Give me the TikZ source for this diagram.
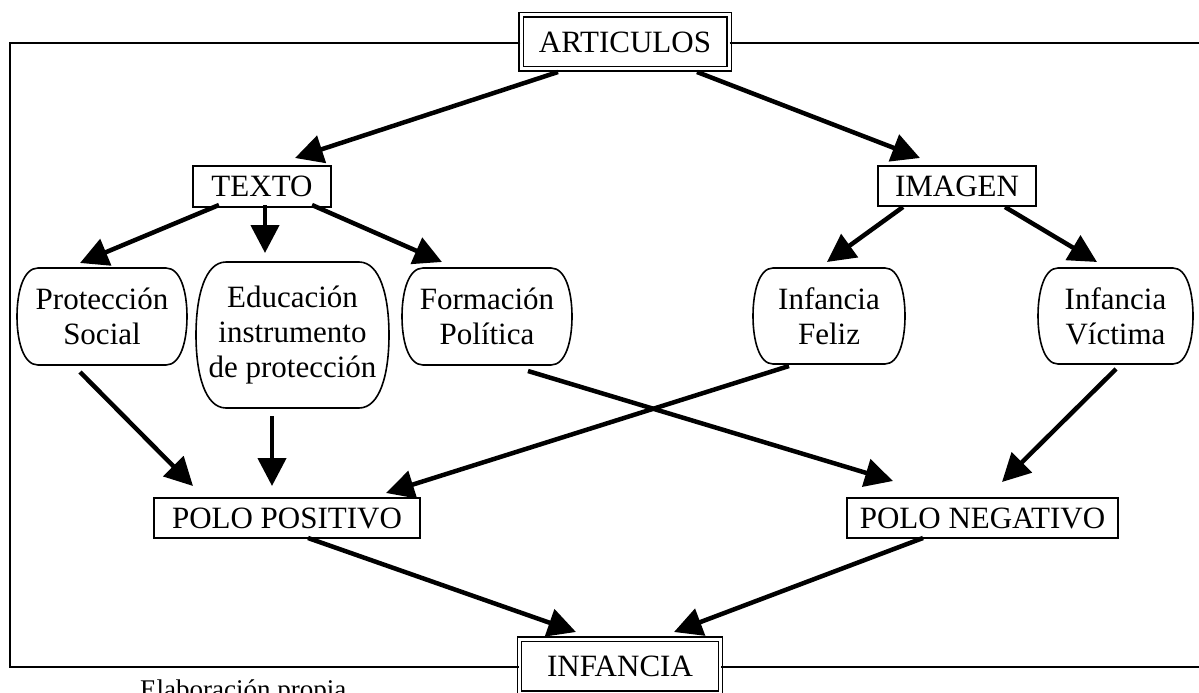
\documentclass[tikz,border=0pt]{standalone}
\usepackage{fontspec}
\setmainfont{Liberation Serif}
\usetikzlibrary{arrows.meta}
\newcommand\bubbleborder[3]{%
  \draw[bubline] ([xshift=#2]#1.north west) -- ([xshift=-#2]#1.north east)
    .. controls ([xshift=-0.3*#2]#1.north east) and ([yshift=-#3]#1.north east) .. (#1.east)
    .. controls ([yshift=#3]#1.south east) and ([xshift=-0.3*#2]#1.south east) .. ([xshift=-#2]#1.south east)
    -- ([xshift=#2]#1.south west)
    .. controls ([xshift=0.3*#2]#1.south west) and ([yshift=#3]#1.south west) .. (#1.west)
    .. controls ([yshift=-#3]#1.north west) and ([xshift=0.3*#2]#1.north west) .. cycle;}
\begin{document}
\begin{tikzpicture}[x=1pt,y=1pt,
  every node/.style={font=\fontsize{31}{35}\selectfont, align=center, inner sep=0pt},
  plainbox/.style={draw, line width=1.6pt, fill=white},
  dblbox/.style={draw, double, double distance=3pt, line width=1.3pt, fill=white},
  bubble/.style={fill=white, outer sep=0pt},
  bubline/.style={line width=1.6pt, line join=round},
  conn/.style={line width=4.5pt, -{Triangle[length=28pt,width=28pt]}},
  frameline/.style={line width=2pt}]
\useasboundingbox (0,0) rectangle (1199,-693);
% nodes
\node[dblbox, minimum width=208pt, minimum height=54pt] (art) at (625,-42) {ARTICULOS};
\node[dblbox, minimum width=201pt, minimum height=54pt] (inf) at (620,-666) {INFANCIA};
\node[plainbox, minimum width=138pt, minimum height=41pt] (texto) at (262,-186.5) {TEXTO};
\node[plainbox, minimum width=158pt, minimum height=40pt] (imagen) at (957,-186) {IMAGEN};
\node[plainbox, minimum width=266pt, minimum height=40pt] (pp) at (287,-518) {POLO POSITIVO};
\node[plainbox, minimum width=271pt, minimum height=40pt] (pn) at (982.5,-518) {POLO NEGATIVO};
\node[bubble, minimum width=170pt, minimum height=97pt] (prot) at (102,-316.5) {Protección\\Social};
\node[bubble, minimum width=193pt, minimum height=146pt] (edu) at (292.5,-335) {Educación\\instrumento\\de protección};
\node[bubble, minimum width=170pt, minimum height=97pt] (form) at (487,-316.5) {Formación\\Política};
\node[bubble, minimum width=152pt, minimum height=96pt] (feliz) at (829,-316) {Infancia\\Feliz};
\node[bubble, minimum width=155pt, minimum height=96pt] (vict) at (1115.5,-316) {Infancia\\Víctima};
\node[anchor=base west, font=\fontsize{27}{31}\selectfont] (src) at (140,-698) {Elaboración propia};
\bubbleborder{prot}{21pt}{24pt}
\bubbleborder{edu}{30pt}{34pt}
\bubbleborder{form}{21pt}{24pt}
\bubbleborder{feliz}{20pt}{24pt}
\bubbleborder{vict}{20pt}{24pt}
% frame
\coordinate (tl) at (10,-43);
\coordinate (bl) at (10,-667);
\coordinate (tr) at (1199,-43);
\coordinate (br) at (1199,-667);
\draw[frameline] (art.west |- tl) -- (tl) -- (bl) -- (inf.west |- bl);
\draw[frameline] (art.east |- tr) -- (tr);
\draw[frameline] (inf.east |- br) -- (br);
% connectors
\draw[conn] ([shift={(-67,-30)}]art.center) -- ([shift={(33,28.5)}]texto.center);
\draw[conn] ([shift={(72,-30)}]art.center) -- ([shift={(-37,28)}]imagen.center);
\draw[conn] ([shift={(-43,-18.5)}]texto.center) -- ([shift={(-22,53.5)}]prot.center);
\draw[conn] ([shift={(3,-18.5)}]texto.center) -- ([shift={(-27.5,82)}]edu.center);
\draw[conn] ([shift={(50,-18.5)}]texto.center) -- ([shift={(-45,54.5)}]form.center);
\draw[conn] ([shift={(-54,-21)}]imagen.center) -- ([shift={(-2,54)}]feliz.center);
\draw[conn] ([shift={(48,-21)}]imagen.center) -- ([shift={(-18.5,54)}]vict.center);
\draw[conn] ([shift={(-22,-55.5)}]prot.center) -- ([shift={(-94,32)}]pp.center);
\draw[conn] ([shift={(-20.5,-81)}]edu.center) -- ([shift={(-15,32)}]pp.center);
\draw[conn] ([shift={(-40,-50)}]feliz.center) -- ([shift={(99,25)}]pp.center);
\draw[conn] ([shift={(41,-54.5)}]form.center) -- ([shift={(-89.5,37)}]pn.center);
\draw[conn] ([shift={(0.5,-53)}]vict.center) -- ([shift={(19.5,36)}]pn.center);
\draw[conn] ([shift={(21,-20)}]pp.center) -- ([shift={(-44,34)}]inf.center);
\draw[conn] ([shift={(-59.5,-20)}]pn.center) -- ([shift={(54,34)}]inf.center);
\end{tikzpicture}
\end{document}
